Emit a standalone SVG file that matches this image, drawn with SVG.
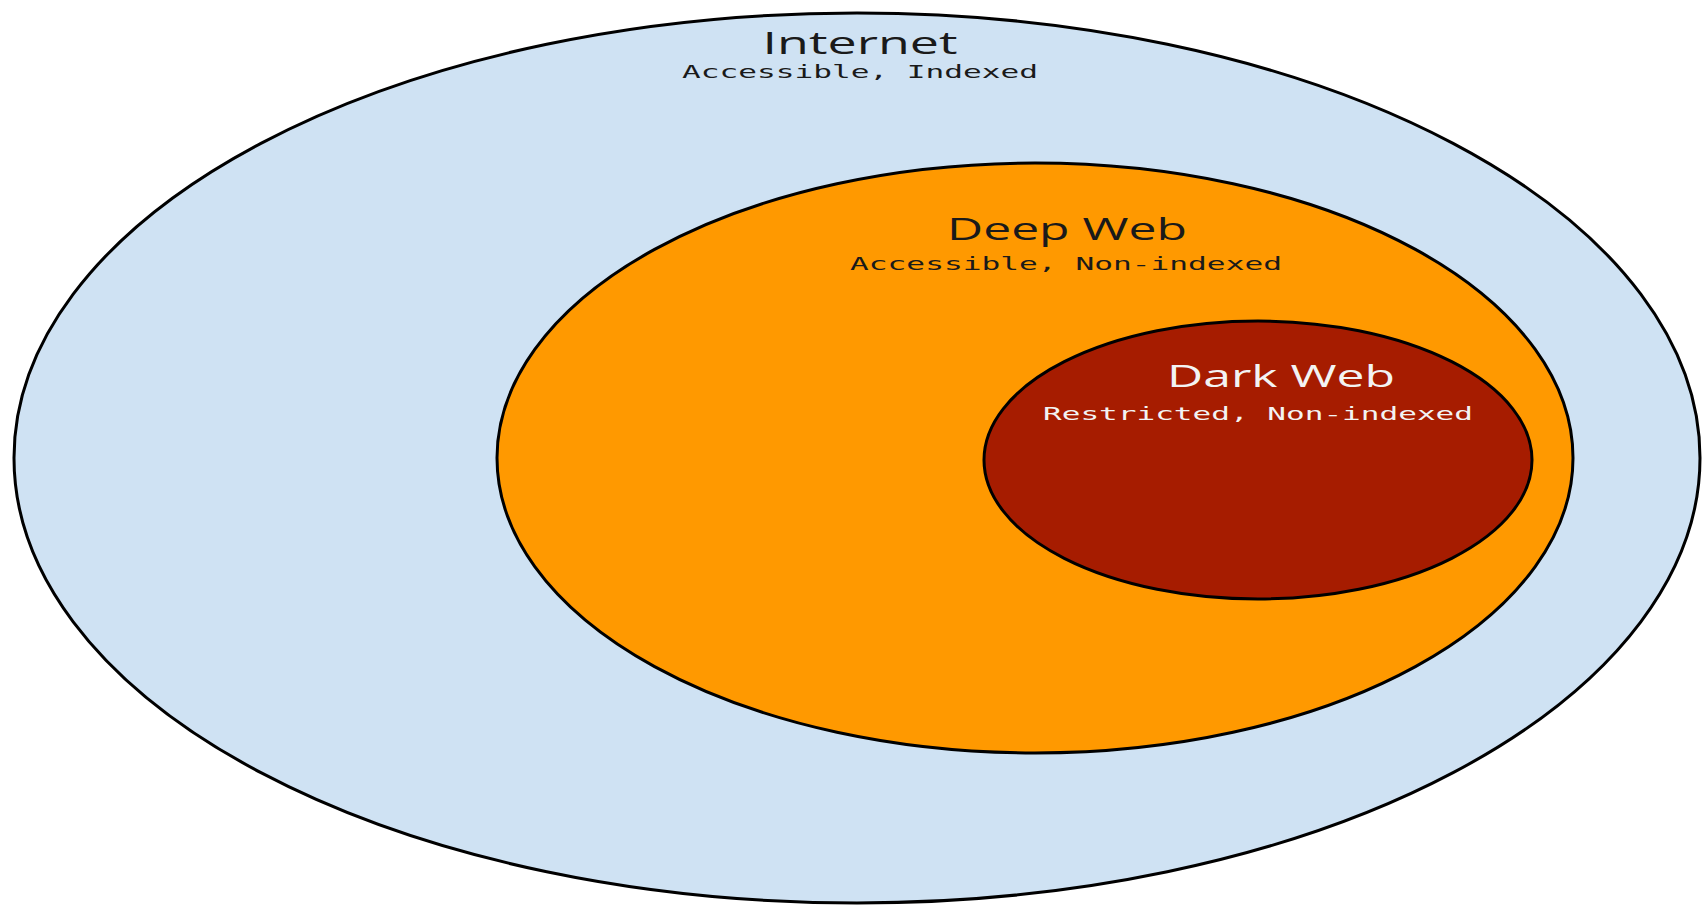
<svg xmlns="http://www.w3.org/2000/svg" width="1704" height="905" viewBox="0 0 1704 905">
<style>
.ring{stroke:#000;stroke-width:3}
.title{font-family:"Open Sans","Noto Sans",sans-serif;font-size:31px;text-anchor:middle}
.sub{font-family:"DejaVu Sans Mono","Liberation Mono",monospace;font-size:17px;text-anchor:middle}
.dark{fill:#1a1a1a}
.light{fill:#f3f3f3}
</style>
<rect width="1704" height="905" fill="#fff"/>
<g id="internet">
<ellipse class="ring" cx="857" cy="458" rx="843" ry="445" fill="#cfe2f3"/>
<text class="title dark" x="860" y="54" textLength="195" lengthAdjust="spacingAndGlyphs">Internet</text>
<text class="sub dark" x="860" y="78" textLength="356" lengthAdjust="spacingAndGlyphs">Accessible, Indexed</text>
</g>
<g id="deepweb">
<ellipse class="ring" cx="1035" cy="458" rx="538" ry="295" fill="#ff9900"/>
<text class="title dark" x="1067" y="240" textLength="240" lengthAdjust="spacingAndGlyphs">Deep Web</text>
<text class="sub dark" x="1066" y="270" textLength="432" lengthAdjust="spacingAndGlyphs">Accessible, Non-indexed</text>
</g>
<g id="darkweb">
<ellipse class="ring" cx="1258" cy="460" rx="274" ry="139" fill="#a61c00"/>
<text class="title light" x="1281" y="387" textLength="228" lengthAdjust="spacingAndGlyphs">Dark Web</text>
<text class="sub light" x="1258" y="420" textLength="430" lengthAdjust="spacingAndGlyphs">Restricted, Non-indexed</text>
</g>
<g id="connectors"></g>
</svg>
